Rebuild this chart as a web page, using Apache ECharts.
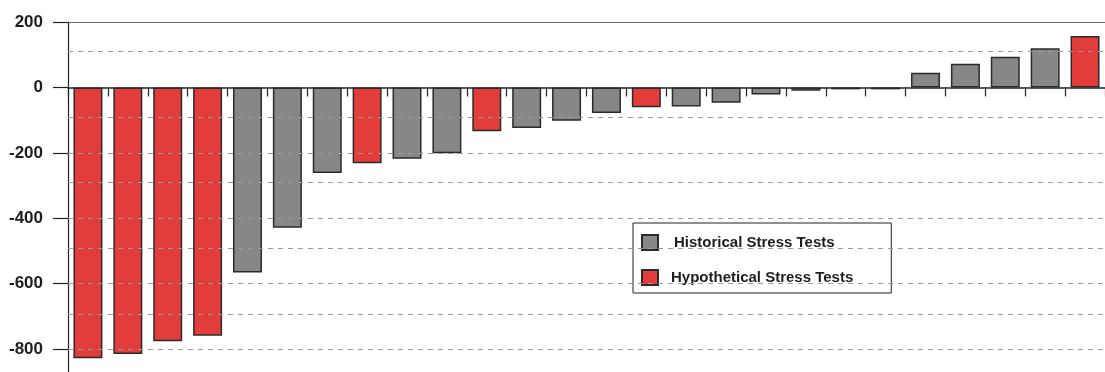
<!DOCTYPE html>
<html>
<head>
<meta charset="utf-8">
<script src="https://cdn.jsdelivr.net/npm/echarts@6/dist/echarts.min.js"></script>
<style>
  html, body { margin: 0; padding: 0; background: #fff; }
  #chart { width: 1105px; height: 372px; }
</style>
</head>
<body>
<div id="chart"></div>
<script>
// Stress test results, sorted from largest loss to largest gain
const scenarios = ['S1','S2','S3','S4','S5','S6','S7','S8','S9','S10','S11','S12','S13',
                   'S14','S15','S16','S17','S18','S19','S20','S21','S22','S23','S24','S25','S26'];
const results = [-828, -815, -776, -759, -566, -429, -262, -232, -218, -201, -134, -124, -102,
                 -78, -61, -58, -47, -22, -10, -6, -6, 45, 72, 94, 120, 157];
// H = historical scenario, Y = hypothetical scenario
const kinds = ['Y','Y','Y','Y','H','H','H','Y','H','H','Y','H','H',
               'H','Y','H','H','H','H','H','H','H','H','H','H','Y'];
const seriesNames = ['Historical Stress Tests', 'Hypothetical Stress Tests'];
// dashed reference levels and top border
const dashedLevels = [112, -91, -200, -291, -400, -492, -600, -694, -800];
const topLevel = 200;

const historical = results.map((v, i) => kinds[i] === 'H' ? v : null);
const hypothetical = results.map((v, i) => kinds[i] === 'Y' ? v : null);

const FONT = '"Liberation Sans", Arial, sans-serif';
const barBorder = { borderColor: '#2b2b2b', borderWidth: 1.5 };

const chart = echarts.init(document.getElementById('chart'), null, { renderer: 'canvas' });
chart.setOption({
  animation: false,
  backgroundColor: '#fff',
  grid: { left: 68, right: -11, top: 22, bottom: 0, containLabel: false },
  legend: {
    orient: 'vertical',
    left: 633,
    top: 223,
    backgroundColor: '#fff',
    borderColor: '#222',
    borderWidth: 1,
    borderRadius: 0,
    padding: [11, 38, 7, 8],
    itemWidth: 16,
    itemHeight: 15,
    itemGap: 18,
    selectedMode: false,
    textStyle: { fontFamily: FONT, fontSize: 15, fontWeight: 'bold', color: '#1e1e1e', lineHeight: 15 },
    data: [
      { name: seriesNames[0], icon: 'rect', textStyle: { padding: [0, 0, 0, 11] } },
      { name: seriesNames[1], icon: 'rect', textStyle: { padding: [0, 0, 0, 8] } }
    ]
  },
  xAxis: {
    type: 'category',
    data: scenarios,
    boundaryGap: true,
    axisLine: { onZero: true, lineStyle: { color: '#222', width: 1.5 } },
    axisTick: { show: true, interval: 0, length: 9, lineStyle: { color: '#222', width: 1.2 } },
    axisLabel: { show: false },
    splitLine: { show: false }
  },
  yAxis: {
    type: 'value',
    min: -870,
    max: 200,
    axisLine: { show: true, lineStyle: { color: '#222', width: 1.2 } },
    axisTick: { show: true, length: 15, lineStyle: { color: '#222', width: 1.2 } },
    axisLabel: {
      showMinLabel: false,
      margin: 25,
      fontFamily: FONT,
      fontSize: 17,
      fontWeight: 'bold',
      color: '#1e1e1e'
    },
    splitLine: { show: false }
  },
  series: [
    {
      name: 'grid',
      type: 'line',
      data: [],
      z: 1,
      silent: true,
      markLine: {
        silent: true,
        symbol: 'none',
        label: { show: false },
        animation: false,
        lineStyle: { type: [5, 5], color: '#9a9a9a', width: 1 },
        data: dashedLevels.map(v => ({ yAxis: v }))
          .concat([{ yAxis: topLevel, lineStyle: { type: 'solid', color: '#6a6a6a', width: 1 } }])
      }
    },
    {
      name: seriesNames[0],
      type: 'bar',
      data: historical,
      barWidth: 29,
      barGap: '-100%',
      z: 3,
      itemStyle: Object.assign({ color: '#878787' }, barBorder)
    },
    {
      name: seriesNames[1],
      type: 'bar',
      data: hypothetical,
      barWidth: 29,
      barGap: '-100%',
      z: 3,
      itemStyle: Object.assign({ color: '#e23d3b' }, barBorder)
    }
  ]
});
</script>
</body>
</html>
